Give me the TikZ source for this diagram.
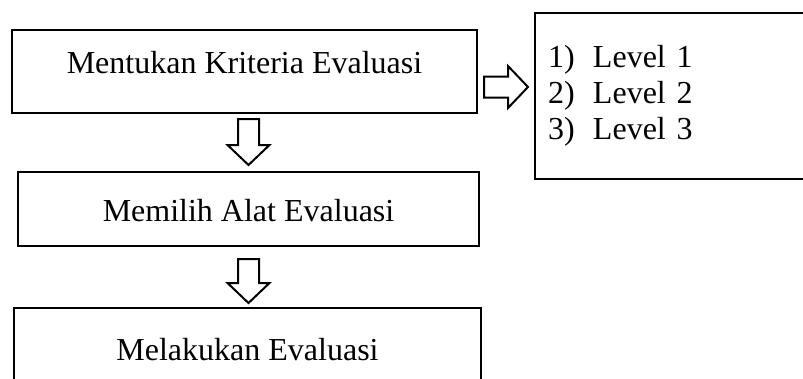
\documentclass[tikz,border=0pt]{standalone}
\usepackage{fontspec}
\setmainfont{Liberation Serif}
\usetikzlibrary{calc}

\tikzset{
  box/.style={draw, line width=2.4pt, inner sep=0pt, outer sep=0pt,
    font=\fontsize{32pt}{36pt}\selectfont},
  blockline/.style={draw, line width=2pt, line join=miter, fill=white}
}
% hollow block arrow from #1 to #2
\newcommand{\blockarrow}[2]{%
  \coordinate (ba-s) at #1;
  \coordinate (ba-e) at #2;
  \coordinate (ba-h) at ($(ba-e)!20pt!(ba-s)$);
  \draw[blockline] ($(ba-s)!10.5pt!90:(ba-e)$) -- ($(ba-h)!10.5pt!90:(ba-e)$)
    -- ($(ba-h)!21pt!90:(ba-e)$) -- (ba-e) -- ($(ba-h)!21pt!-90:(ba-e)$)
    -- ($(ba-h)!10.5pt!-90:(ba-e)$) -- ($(ba-s)!10.5pt!-90:(ba-e)$) -- cycle;
}

\begin{document}
\begin{tikzpicture}[x=1pt,y=-1pt]
\useasboundingbox (0,0) rectangle (803,378);
\clip (0,0) rectangle (803,378);
% Steps
\node[box, minimum width=465pt, text height=43pt, text depth=40pt, anchor=north west]
  (krit) at (12,30) {Mentukan Kriteria Evaluasi};
\node[box, minimum width=461pt, text height=49pt, text depth=25pt, anchor=north west]
  (alat) at (18,172) {Memilih Alat Evaluasi};
\node[box, minimum width=467pt, text height=52pt, text depth=50pt, anchor=north west]
  (eval) at (14,308) {Melakukan Evaluasi};
% Levels
\node[box, anchor=north west, inner xsep=13pt, text width=300pt, align=left,
  minimum height=166pt] (lev) at (535,13)
  {\makebox[45pt][l]{1)}Level 1\\ \makebox[45pt][l]{2)}Level 2\\ \makebox[45pt][l]{3)}Level 3};
% Arrows
\blockarrow{($(krit.south -| alat.north)+(0,6)$)}{($(alat.north)+(0,-7)$)}
\blockarrow{($(alat.south)+(0,13)$)}{($(alat.south |- eval.north)+(0,-5)$)}
\blockarrow{($(krit.east)+(7,15.5)$)}{($(krit.east -| lev.west)+(-7,15.5)$)}
\end{tikzpicture}
\end{document}
